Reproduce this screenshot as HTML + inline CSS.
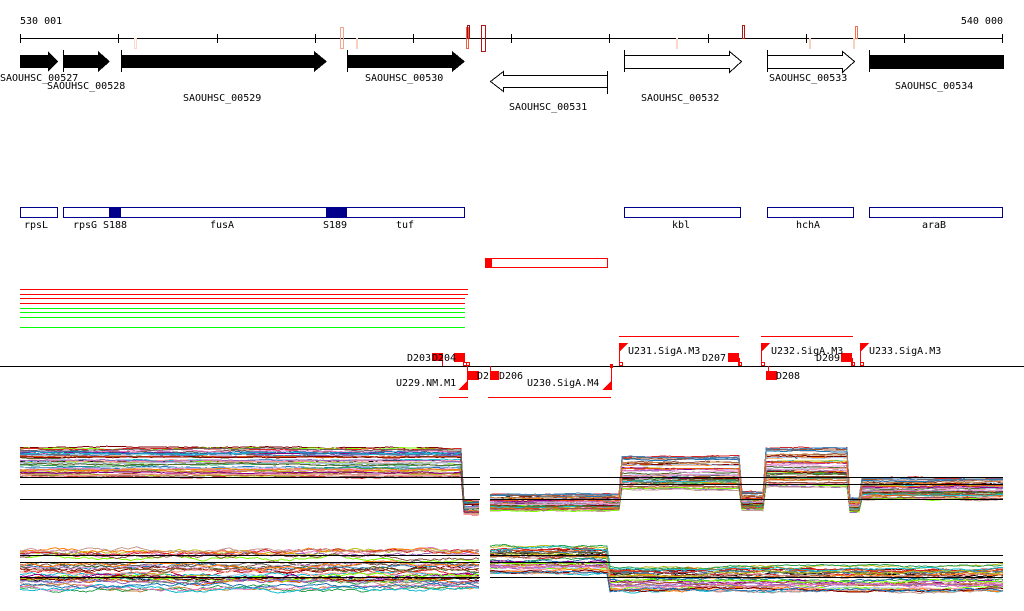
<!DOCTYPE html>
<html><head><meta charset="utf-8"><style>
html,body{margin:0;padding:0;background:#fff;width:1024px;height:611px;overflow:hidden}
svg text{font-family:"DejaVu Sans Mono","Liberation Mono",monospace;font-size:10px;fill:#000}
</style></head><body>
<svg id="s" width="1024" height="611" xmlns="http://www.w3.org/2000/svg" shape-rendering="crispEdges">
<text x="20" y="24">530 001</text>
<text x="1003" y="24" text-anchor="end">540 000</text>
<line x1="20" y1="38.5" x2="1003" y2="38.5" stroke="#000"/>
<g stroke="#000">
<line x1="20.5" y1="34" x2="20.5" y2="43"/><line x1="118.5" y1="34" x2="118.5" y2="43"/><line x1="217.5" y1="34" x2="217.5" y2="43"/><line x1="315.5" y1="34" x2="315.5" y2="43"/><line x1="413.5" y1="34" x2="413.5" y2="43"/><line x1="511.5" y1="34" x2="511.5" y2="43"/><line x1="609.5" y1="34" x2="609.5" y2="43"/><line x1="708.5" y1="34" x2="708.5" y2="43"/><line x1="806.5" y1="34" x2="806.5" y2="43"/><line x1="904.5" y1="34" x2="904.5" y2="43"/><line x1="1002.5" y1="34" x2="1002.5" y2="43"/>
</g>
<g fill="none">
<rect x="134.5" y="38.5" width="2" height="10" stroke="#fcd8cc"/>
<rect x="340.5" y="27.5" width="3" height="21" stroke="#f4a58c"/>
<rect x="356.5" y="38.5" width="1" height="10" stroke="#fbd0c0"/>
<rect x="466.5" y="27.5" width="2" height="21" stroke="#f06040"/>
<rect x="467.5" y="25.5" width="2" height="13" stroke="#a01020"/>
<rect x="481.5" y="25.5" width="4" height="26" stroke="#b01818"/>
<rect x="676.5" y="38.5" width="1" height="10" stroke="#fcd8cc"/>
<rect x="742.5" y="25.5" width="2" height="13" stroke="#b01818"/>
<rect x="809.5" y="38.5" width="1" height="10" stroke="#fbd0c0"/>
<rect x="855.5" y="26.5" width="2" height="12" stroke="#f07050"/>
<rect x="853.5" y="38.5" width="1" height="10" stroke="#fbd0c0"/>
</g>
<g fill="#000">
<polygon points="20,55 48,55 48,51 58,61.5 48,72 48,68 20,68"/>
<polygon points="63,55 98,55 98,51 110,61.5 98,72 98,68 63,68"/>
<polygon points="121,55 314,55 314,51 327,61.5 314,72 314,68 121,68"/>
<polygon points="347,55 452,55 452,51 465,61.5 452,72 452,68 347,68"/>
<rect x="869" y="55" width="135" height="14"/>
</g>
<g stroke="#000" fill="none">
<line x1="63.5" y1="50" x2="63.5" y2="72"/><line x1="121.5" y1="50" x2="121.5" y2="72"/><line x1="347.5" y1="50" x2="347.5" y2="72"/><line x1="869.5" y1="50" x2="869.5" y2="72"/>
<polygon points="607.5,75.5 503.5,75.5 503.5,71.5 490.5,81.5 503.5,91.5 503.5,87.5 607.5,87.5" fill="#fff"/>
<line x1="607.5" y1="71" x2="607.5" y2="94"/>
<polygon points="624.5,55.5 729.5,55.5 729.5,51.5 741.5,61.5 729.5,72.5 729.5,68.5 624.5,68.5" fill="#fff"/>
<line x1="624.5" y1="50" x2="624.5" y2="72"/>
<polygon points="767.5,55.5 842.5,55.5 842.5,51.5 854.5,61.5 842.5,72.5 842.5,68.5 767.5,68.5" fill="#fff"/>
<line x1="767.5" y1="50" x2="767.5" y2="72"/>
</g>
<text x="0" y="81">SAOUHSC_00527</text>
<text x="47" y="89">SAOUHSC_00528</text>
<text x="183" y="101">SAOUHSC_00529</text>
<text x="365" y="81">SAOUHSC_00530</text>
<text x="509" y="110">SAOUHSC_00531</text>
<text x="641" y="101">SAOUHSC_00532</text>
<text x="769" y="81">SAOUHSC_00533</text>
<text x="895" y="89">SAOUHSC_00534</text>
<g stroke="#00008b" fill="none">
<rect x="20.5" y="207.5" width="37" height="10"/>
<rect x="63.5" y="207.5" width="401" height="10"/>
<rect x="624.5" y="207.5" width="116" height="10"/>
<rect x="767.5" y="207.5" width="86" height="10"/>
<rect x="869.5" y="207.5" width="133" height="10"/>
</g>
<rect x="109" y="207" width="12" height="11" fill="#00008b"/>
<rect x="326" y="207" width="21" height="11" fill="#00008b"/>
<text x="24" y="228">rpsL</text><text x="73" y="228">rpsG</text><text x="103" y="228">S188</text><text x="210" y="228">fusA</text><text x="323" y="228">S189</text><text x="396" y="228">tuf</text><text x="672" y="228">kbl</text><text x="796" y="228">hchA</text><text x="922" y="228">araB</text>
<rect x="485.5" y="258.5" width="122" height="9" fill="none" stroke="red"/>
<rect x="485" y="258" width="7" height="10" fill="red"/>
<g stroke-width="1">
<line x1="20" y1="289.5" x2="468" y2="289.5" stroke="red"/>
<line x1="20" y1="294.5" x2="468" y2="294.5" stroke="red"/>
<line x1="20" y1="298.5" x2="465" y2="298.5" stroke="red"/>
<line x1="20" y1="303.5" x2="465" y2="303.5" stroke="red"/>
<line x1="20" y1="308.5" x2="465" y2="308.5" stroke="#0f0"/>
<line x1="20" y1="312.5" x2="465" y2="312.5" stroke="#0f0"/>
<line x1="20" y1="317.5" x2="465" y2="317.5" stroke="#0f0"/>
<line x1="20" y1="327.5" x2="465" y2="327.5" stroke="#0f0"/>
</g>
<line x1="0" y1="366.5" x2="1024" y2="366.5" stroke="#000"/>
<g stroke="red" fill="none">
<line x1="619" y1="336.5" x2="739" y2="336.5"/>
<line x1="761" y1="336.5" x2="853" y2="336.5"/>
<line x1="439" y1="397.5" x2="468" y2="397.5"/>
<line x1="488" y1="397.5" x2="611" y2="397.5"/>
<line x1="442.5" y1="353" x2="442.5" y2="366"/>
<line x1="467.5" y1="366" x2="467.5" y2="390"/>
<line x1="490.5" y1="366" x2="490.5" y2="374"/>
<line x1="611.5" y1="366" x2="611.5" y2="390"/>
<line x1="619.5" y1="343" x2="619.5" y2="366"/>
<line x1="739.5" y1="358" x2="739.5" y2="366"/>
<line x1="761.5" y1="343" x2="761.5" y2="366"/>
<line x1="768.5" y1="366" x2="768.5" y2="372"/>
<line x1="852.5" y1="358" x2="852.5" y2="366"/>
<line x1="860.5" y1="343" x2="860.5" y2="366"/>
<rect x="463.5" y="362.5" width="3" height="3"/><rect x="466.5" y="362.5" width="3" height="3"/>
<rect x="619.5" y="362.5" width="3" height="3"/><rect x="738.5" y="362.5" width="3" height="3"/>
<rect x="761.5" y="362.5" width="3" height="3"/><rect x="851.5" y="362.5" width="3" height="3"/><rect x="860.5" y="362.5" width="3" height="3"/>
</g>
<g fill="red">
<polygon points="619,343 628,343 619,352"/><polygon points="761,343 770,343 761,352"/><polygon points="860,343 869,343 860,352"/>
<polygon points="467,381 467,390 458,390"/><polygon points="611,381 611,390 602,390"/>
<rect x="432" y="353" width="11" height="8"/><rect x="454" y="353" width="11" height="9"/>
<rect x="468" y="371" width="11" height="9"/><rect x="490" y="371" width="9" height="9"/>
<rect x="728" y="353" width="11" height="9"/><rect x="766" y="371" width="11" height="9"/><rect x="841" y="353" width="11" height="9"/>
<rect x="610" y="364" width="3" height="4"/>
</g>
<text x="407" y="361">D203</text><text x="432" y="361">D204</text>
<text x="396" y="386">U229.NM.M1</text><text x="477" y="379">D2</text><text x="499" y="379">D206</text>
<text x="527" y="386">U230.SigA.M4</text>
<text x="628" y="354">U231.SigA.M3</text><text x="702" y="361">D207</text>
<text x="771" y="354">U232.SigA.M3</text><text x="816" y="361">D209</text><text x="776" y="379">D208</text>
<text x="869" y="354">U233.SigA.M3</text>
<g id="plots" fill="none" stroke-width="1"></g>
<g stroke="#000">
<line x1="20" y1="477.5" x2="480" y2="477.5"/><line x1="20" y1="484.5" x2="480" y2="484.5"/><line x1="20" y1="499.5" x2="480" y2="499.5"/>
<line x1="490" y1="477.5" x2="1003" y2="477.5"/><line x1="490" y1="484.5" x2="1003" y2="484.5"/><line x1="490" y1="499.5" x2="1003" y2="499.5"/>
<line x1="20" y1="555.5" x2="480" y2="555.5"/><line x1="20" y1="562.5" x2="480" y2="562.5"/><line x1="20" y1="577.5" x2="480" y2="577.5"/>
<line x1="490" y1="555.5" x2="1003" y2="555.5"/><line x1="490" y1="562.5" x2="1003" y2="562.5"/><line x1="490" y1="577.5" x2="1003" y2="577.5"/>
</g>
</svg>
<script>
(function(){
var g=document.getElementById('plots');
var cols=['#e6550d','#31a354','#7fff00','#d62728','#9467bd','#8c564b','#e377c2','#bcbd22','#17becf','#c49c94','#ff7f0e','#800000','#1f77b4','#aec7e8','#ff9896','#666','#8b008b','#556b2f','#dda0dd','#a0522d','#4682b4','#cd853f'];
var seed=7;function r(){seed=(seed*9301+49297)%233280;return seed/233280;}
function seg(x0,x1,prof,n,noise){
 for(var i=0;i<n;i++){var off=r(),pts=[],w=0;
  for(var x=x0;x<=x1;x+=3){w+=(r()-0.5)*noise;w*=0.9;
   var b=prof(x,off);pts.push(x+','+(b+w).toFixed(1));}
  var p=document.createElementNS('http://www.w3.org/2000/svg','polyline');
  p.setAttribute('points',pts.join(' '));p.setAttribute('stroke',i==0?'#000':cols[i%cols.length]);
  g.appendChild(p);}
}
seg(20,480,function(x,o){if(x<462)return 447+o*30;return 500+o*15;},40,1);
seg(490,1003,function(x,o){
 if(x<622)return 494+o*17;if(x<740)return 456+o*34;if(x<764)return 492+o*18;
 if(x<850)return 447+o*40;if(x<860)return 498+o*14;return 478+o*22;},45,1);
seg(20,480,function(x,o){return 550+o*40;},35,3);
seg(490,1003,function(x,o){if(x<610)return 546+o*28;return 566+o*26;},35,2);
})();
</script>
</body></html>
